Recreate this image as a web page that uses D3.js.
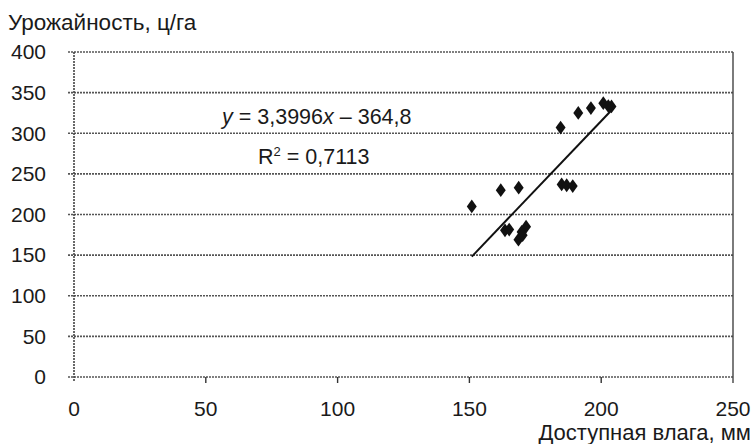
<!DOCTYPE html>
<html>
<head>
<meta charset="utf-8">
<script src="https://d3js.org/d3.v7.min.js"></script>
<style>
  body { margin: 0; background: #fff; }
  text { font-family: "Liberation Sans", Arial, sans-serif; fill: #1a1a1a; }
</style>
</head>
<body>
<div id="chart"></div>
<script>
// moisture (mm) and yield (c/ha)
var moisture = [150.9, 161.9, 168.7, 163.5, 165.1, 171.5, 169.8, 168.6, 170.2,
                185.0, 186.9, 189.2, 184.6, 191.3, 196.1, 200.8, 202.7, 203.9];
var yieldVals = [210, 230, 233, 180.5, 181.5, 185, 178.5, 169, 174.5,
                 237, 236, 235, 307, 325, 331, 337, 333.5, 333];
var xTicks = [0, 50, 100, 150, 200, 250];
var yTicks = [0, 50, 100, 150, 200, 250, 300, 350, 400];
var slope = 3.3996, intercept = -364.8;

var width = 755, height = 444;
var margin = {left: 74, right: 22, top: 52, bottom: 67};
var fs = "21px";

var svg = d3.select("#chart").append("svg")
  .attr("width", width)
  .attr("height", height);

var x = d3.scaleLinear().domain([0, 250]).range([margin.left, width - margin.right]);
var y = d3.scaleLinear().domain([0, 400]).range([height - margin.bottom, margin.top]);

// horizontal grid
svg.append("g").selectAll("line")
  .data(yTicks)
  .enter().append("line")
  .attr("x1", x(0) - 6)
  .attr("x2", x(250))
  .attr("y1", function(d) { return y(d); })
  .attr("y2", function(d) { return y(d); })
  .attr("stroke", "#555")
  .attr("stroke-width", 1.6)
  .attr("stroke-dasharray", "2,1");

// vertical borders
svg.append("line")
  .attr("x1", x(0)).attr("x2", x(0))
  .attr("y1", y(400)).attr("y2", y(0) + 5)
  .attr("stroke", "#444").attr("stroke-width", 1.6).attr("stroke-dasharray", "2,1");
svg.append("line")
  .attr("x1", x(250)).attr("x2", x(250))
  .attr("y1", y(400)).attr("y2", y(0) + 6)
  .attr("stroke", "#444").attr("stroke-width", 1.4);

// x ticks
svg.append("g").selectAll("line")
  .data(xTicks.slice(1, -1))
  .enter().append("line")
  .attr("x1", function(d) { return x(d); })
  .attr("x2", function(d) { return x(d); })
  .attr("y1", y(0))
  .attr("y2", y(0) + 6)
  .attr("stroke", "#333")
  .attr("stroke-width", 1.4);

// tick labels
svg.append("g").selectAll("text")
  .data(yTicks)
  .enter().append("text")
  .attr("x", 46)
  .attr("y", function(d) { return y(d); })
  .attr("dy", "0.35em")
  .attr("text-anchor", "end")
  .style("font-size", fs)
  .text(function(d) { return d; });

svg.append("g").selectAll("text")
  .data(xTicks)
  .enter().append("text")
  .attr("x", function(d) { return x(d); })
  .attr("y", y(0) + 32)
  .attr("dy", "0.35em")
  .attr("text-anchor", "middle")
  .style("font-size", fs)
  .text(function(d) { return d; });

// axis titles
svg.append("text")
  .attr("x", 8).attr("y", 30)
  .style("font-size", "22.5px")
  .text("Урожайность, ц/га");
svg.append("text")
  .attr("x", 751).attr("y", 440)
  .attr("text-anchor", "end")
  .style("font-size", "22px")
  .text("Доступная влага, мм");

// trend line
var xMin = d3.min(moisture), xMax = d3.max(moisture);
svg.append("line")
  .attr("x1", x(xMin)).attr("y1", y(slope * xMin + intercept))
  .attr("x2", x(xMax)).attr("y2", y(slope * xMax + intercept))
  .attr("stroke", "#111")
  .attr("stroke-width", 2);

// points
var diamond = d3.symbol().type(d3.symbolDiamond).size(55);
svg.append("g").selectAll("path")
  .data(moisture)
  .enter().append("path")
  .attr("d", diamond)
  .attr("transform", function(d, i) { return "translate(" + x(d) + "," + y(yieldVals[i]) + ") scale(1.25,1)"; })
  .attr("fill", "#111");

// equation
var eq = svg.append("text")
  .attr("x", 222).attr("y", 124)
  .style("font-size", "21.5px");
eq.append("tspan").style("font-style", "italic").text("y");
eq.append("tspan").text(" = 3,3996");
eq.append("tspan").style("font-style", "italic").text("x");
eq.append("tspan").text(" \u2013 364,8");

var r2 = svg.append("text")
  .attr("x", 258).attr("y", 164)
  .style("font-size", "21.5px");
r2.append("tspan").text("R");
r2.append("tspan").attr("dy", -8).style("font-size", "13px").text("2");
r2.append("tspan").attr("dy", 8).text(" = 0,7113");
</script>
</body>
</html>
